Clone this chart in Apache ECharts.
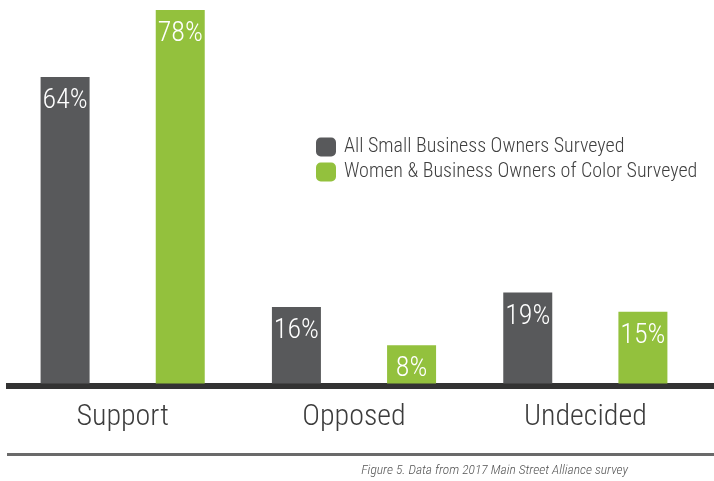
<!DOCTYPE html>
<html>
<head>
<meta charset="utf-8">
<script src="https://cdn.jsdelivr.net/npm/echarts@6/dist/echarts.min.js"></script>
<style>
  html, body { margin: 0; padding: 0; background: #ffffff; }
  #chart { width: 714px; height: 481px; }
</style>
</head>
<body>
<div id="chart"></div>
<script>
// Survey responses (percent of respondents)
const categories = ['Support', 'Opposed', 'Undecided'];
const seriesNames = ['All Small Business Owners Surveyed', 'Women & Business Owners of Color Surveyed'];
const allOwners = [64, 16, 19];
const womenAndPoc = [78, 8, 15];
const footnote = 'Figure 5. Data from 2017 Main Street Alliance survey';

const FONT = "'Roboto Condensed', 'Liberation Sans Narrow', 'DejaVu Sans Condensed', Roboto, sans-serif";
const DARK = '#58595b';
const GREEN = '#93c13d';

const chart = echarts.init(document.getElementById('chart'), null, { renderer: 'canvas' });

const barLabel = {
  show: true,
  position: 'insideTop',
  distance: 10,
  color: '#ffffff',
  fontFamily: FONT,
  fontWeight: 300,
  fontSize: 28,
  formatter: p => p.value + '%'
};

chart.setOption({
  animation: false,
  backgroundColor: '#ffffff',
  grid: { left: 7, right: 13, top: 0.5, bottom: 97.5, containLabel: false },
  legend: {
    orient: 'vertical',
    left: 316,
    top: 137,
    padding: 0,
    itemWidth: 20,
    itemHeight: 19,
    itemGap: 5,
    icon: 'roundRect',
    textStyle: { fontFamily: FONT, fontWeight: 300, fontSize: 20, color: '#3f3f3f', padding: [0, 0, 0, 3] },
    data: seriesNames
  },
  xAxis: {
    type: 'category',
    data: categories,
    axisLine: { show: false },
    axisTick: { show: false },
    axisLabel: { margin: 19, fontFamily: FONT, fontWeight: 300, fontSize: 30, color: '#3c3c3c' }
  },
  yAxis: {
    type: 'value',
    min: 0,
    max: 80,
    show: false,
    splitLine: { show: false }
  },
  series: [
    {
      name: seriesNames[0],
      type: 'bar',
      data: allOwners,
      barWidth: 49,
      barGap: '135%',
      itemStyle: { color: DARK },
      label: barLabel
    },
    {
      name: seriesNames[1],
      type: 'bar',
      data: womenAndPoc,
      barWidth: 49,
      itemStyle: { color: GREEN },
      label: barLabel
    }
  ],
  graphic: [
    // heavy baseline under the bars
    { type: 'rect', left: 6, top: 383, shape: { width: 708, height: 6 }, style: { fill: '#333333' }, silent: true },
    // divider above the footnote
    { type: 'rect', left: 7, top: 453, shape: { width: 707, height: 3 }, style: { fill: '#6a6a6a' }, silent: true },
    {
      type: 'text',
      right: 86,
      top: 464,
      style: { text: footnote, fontFamily: FONT, fontStyle: 'italic', fontWeight: 300, fontSize: 13.5, fill: '#555555' },
      silent: true
    }
  ]
});
</script>
</body>
</html>
